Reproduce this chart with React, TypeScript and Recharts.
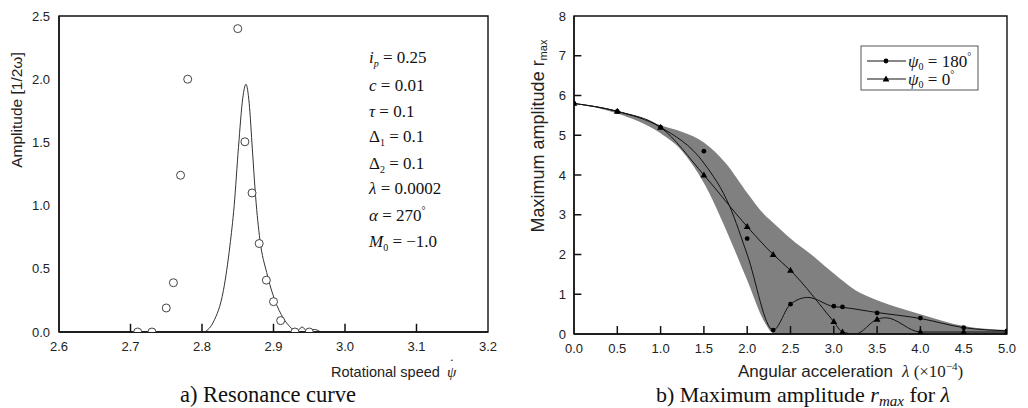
import React from 'react';
import { ComposedChart, Line, Scatter, Area, XAxis, YAxis, ReferenceArea, ReferenceLine } from 'recharts';

// ---- Chart a) Resonance curve ----
const measSpeed = [2.71, 2.73, 2.75, 2.76, 2.77, 2.78, 2.85, 2.86, 2.87, 2.88, 2.89, 2.90, 2.91, 2.93, 2.95];
const measAmp = [0, 0, 0.19, 0.39, 1.24, 2.0, 2.4, 1.505, 1.1, 0.7, 0.41, 0.24, 0.09, 0, 0];
const calcSpeed = [2.804, 2.816, 2.83, 2.839, 2.845, 2.851, 2.857, 2.8615, 2.866, 2.8705, 2.875, 2.881, 2.8905, 2.902, 2.9137, 2.925, 2.932, 2.94, 2.948, 2.957, 2.966];
const calcAmp = [0, 0.08, 0.33, 0.68, 1.0, 1.46, 1.85, 1.96, 1.81, 1.44, 1.07, 0.73, 0.47, 0.25, 0.11, 0.03, 0, 0.04, 0, 0.02, 0];
const speedTicks = [2.6, 2.7, 2.8, 2.9, 3.0, 3.1, 3.2];
const speedInnerTicks = [2.7, 2.8, 2.9, 3.0, 3.1];
const ampTicks = [0, 0.5, 1.0, 1.5, 2.0, 2.5];

// ---- Chart b) Maximum amplitude ----
const lambdaPts = [0, 0.5, 1.0, 1.5, 2.0, 2.3, 2.5, 3.0, 3.1, 3.5, 4.0, 4.5, 5.0];
const r180 = [5.8, 5.6, 5.2, 4.6, 2.4, 0.1, 0.75, 0.7, 0.68, 0.53, 0.4, 0.16, 0.08];
const r0 = [5.8, 5.6, 5.2, 4.0, 2.7, 2.0, 1.6, 0.31, 0.05, 0.37, 0.05, 0.05, 0.05];
const fitLambda180 = [0, 0.5, 1.0, 1.5, 1.8, 2.0, 2.3, 2.5, 2.7, 3.0, 3.1, 3.5, 4.0, 4.5, 5.0];
const fit180 = [5.8, 5.6, 5.2, 4.3, 3.2, 2.0, 0.1, 0.75, 0.92, 0.69, 0.67, 0.54, 0.39, 0.16, 0.08];
const fitLambda0 = [0, 0.5, 1.0, 1.5, 2.0, 2.3, 2.5, 3.0, 3.1, 3.25, 3.5, 3.6, 4.0, 4.5, 5.0];
const fit0 = [5.8, 5.6, 5.2, 4.0, 2.7, 2.0, 1.6, 0.31, 0.05, 0, 0.37, 0.41, 0.05, 0.05, 0.05];
const bandLambda = [0, 0.5, 1.0, 1.25, 1.5, 1.75, 2.0, 2.2, 2.3, 2.5, 2.75, 3.0, 3.25, 3.5, 4.0, 4.5, 5.0];
const bandHigh = [5.8, 5.62, 5.25, 5.08, 4.82, 4.3, 3.55, 3.0, 2.8, 2.4, 1.98, 1.52, 1.1, 0.85, 0.5, 0.2, 0.1];
const bandLow = [5.8, 5.55, 5.05, 4.6, 3.8, 2.65, 1.35, 0.3, 0.02, 0, 0, 0, 0, 0, 0, 0, 0];
const lambdaTicks = [0, 0.5, 1.0, 1.5, 2.0, 2.5, 3.0, 3.5, 4.0, 4.5, 5.0];
const lambdaInnerTicks = [0.5, 1.0, 1.5, 2.0, 2.5, 3.0, 3.5, 4.0, 4.5];
const rTicks = [0, 1, 2, 3, 4, 5, 6, 7, 8];
const rInnerTicks = [1, 2, 3, 4, 5, 6, 7];

// tick-mark lengths expressed in axis units (≈8 px / 7 px)
const AMP_TICK_LEN = 0.065;
const R_TICK_LEN = 0.2;
const LAMBDA_TICK_LEN = 0.085;

const zip = (xs: number[], ys: number[]) => xs.map((x, i) => ({ x, y: ys[i] }));
const measData = zip(measSpeed, measAmp);
const calcData = zip(calcSpeed, calcAmp);
const pts180 = zip(lambdaPts, r180);
const pts0 = zip(lambdaPts, r0);
const line180 = zip(fitLambda180, fit180);
const line0 = zip(fitLambda0, fit0);
const bandData = bandLambda.map((x, i) => ({ x, range: [bandLow[i], bandHigh[i]] }));

const SANS = '"Liberation Sans", Arial, sans-serif';
const SERIF = '"Liberation Serif", "Times New Roman", serif';
const AX = '#111';
const TICK_FILL = '#222';

const OpenCircle = (p: any) => <circle cx={p.cx} cy={p.cy} r={4} fill="#fff" stroke="#444" strokeWidth={1} />;
const Dot = (p: any) => <circle cx={p.cx} cy={p.cy} r={2.4} fill="#000" />;
const Tri = (p: any) => (
  <polygon points={`${p.cx},${p.cy - 3.6} ${p.cx - 3.4},${p.cy + 2.4} ${p.cx + 3.4},${p.cy + 2.4}`} fill="#000" />
);

const XTickLabel = (p: any) => (
  <text x={p.x} y={p.y + 8.5} textAnchor="middle" fontFamily={SANS} fontSize={13} fill={TICK_FILL}>
    {Number(p.payload.value).toFixed(1)}
  </text>
);
const YTickLabel = (digits: number) => (p: any) => (
  <text x={p.x} y={p.y + 4.6} textAnchor="end" fontFamily={SANS} fontSize={13} fill={TICK_FILL}>
    {Number(p.payload.value).toFixed(digits)}
  </text>
);

export default function App() {
  return (
    <div style={{ position: 'absolute', left: 0, top: 0, width: 1028, height: 408, background: '#fff', overflow: 'hidden' }}>
      <div style={{ position: 'absolute', left: 0, top: 0 }}>
        <ComposedChart width={500} height={360} margin={{ top: 16, right: 12, bottom: 0, left: 0 }}>
          <XAxis dataKey="x" type="number" domain={[2.6, 3.2]} ticks={speedTicks} allowDataOverflow
            height={28} tickSize={0} tickMargin={10} tickLine={false} tick={XTickLabel} interval={0}
            axisLine={{ stroke: AX, strokeWidth: 1.4 }} />
          <YAxis type="number" domain={[0, 2.5]} ticks={ampTicks} allowDataOverflow width={59}
            tickSize={0} tickMargin={9} tick={YTickLabel(1)} tickLine={false} interval={0}
            axisLine={{ stroke: AX, strokeWidth: 1.4 }} />
          <ReferenceArea x1={2.6} x2={3.2} y1={0} y2={2.5} fill="none" fillOpacity={0} stroke={AX} strokeWidth={1.4} />
          {speedInnerTicks.map((t) => (
            <ReferenceLine key={t} segment={[{ x: t, y: 0 }, { x: t, y: AMP_TICK_LEN }]} stroke={AX} strokeWidth={1.5} />
          ))}
          <Line data={calcData} dataKey="y" type="monotone" stroke="#333" strokeWidth={1} dot={false} isAnimationActive={false} />
          <Scatter data={measData} dataKey="y" shape={OpenCircle} isAnimationActive={false} />
        </ComposedChart>
      </div>
      <div style={{ position: 'absolute', left: 515, top: 0 }}>
        <ComposedChart width={513} height={362} margin={{ top: 16, right: 21, bottom: 0, left: 0 }}>
          <XAxis dataKey="x" type="number" domain={[0, 5]} ticks={lambdaTicks} allowDataOverflow
            height={28} tickSize={0} tickMargin={10} tickLine={false} tick={XTickLabel} interval={0}
            axisLine={{ stroke: AX, strokeWidth: 1.4 }} />
          <YAxis type="number" domain={[0, 8]} ticks={rTicks} allowDataOverflow width={59}
            tickSize={0} tickMargin={8} tickLine={false} tick={YTickLabel(0)} interval={0}
            axisLine={{ stroke: AX, strokeWidth: 1.4 }} />
          <Area data={bandData} dataKey="range" type="monotone" fill="#808080" fillOpacity={1} stroke="none" isAnimationActive={false} />
          <ReferenceArea x1={0} x2={5} y1={0} y2={8} fill="none" fillOpacity={0} stroke={AX} strokeWidth={1.4} />
          {lambdaInnerTicks.map((t) => (
            <ReferenceLine key={'x' + t} segment={[{ x: t, y: 0 }, { x: t, y: R_TICK_LEN }]} stroke={AX} strokeWidth={1.5} />
          ))}
          {rInnerTicks.map((t) => (
            <ReferenceLine key={'y' + t} segment={[{ x: 0, y: t }, { x: LAMBDA_TICK_LEN, y: t }]} stroke={AX} strokeWidth={1.5} />
          ))}
          <Line data={line180} dataKey="y" type="monotone" stroke="#111" strokeWidth={1} dot={false} isAnimationActive={false} />
          <Line data={line0} dataKey="y" type="monotone" stroke="#111" strokeWidth={1} dot={false} isAnimationActive={false} />
          <Scatter data={pts180} dataKey="y" shape={Dot} isAnimationActive={false} />
          <Scatter data={pts0} dataKey="y" shape={Tri} isAnimationActive={false} />
        </ComposedChart>
      </div>
      <svg width={1028} height={408} style={{ position: 'absolute', left: 0, top: 0, pointerEvents: 'none' }}>
        {/* left chart titles */}
        <text transform="translate(22,110) rotate(-90)" textAnchor="middle" fontFamily={SANS} fontSize={15.5} fill="#222">Amplitude [1/2ω]</text>
        <text x={331} y={377} fontFamily={SANS} fontSize={14.5} fill="#222">Rotational speed</text>
        <text x={447} y={377} fontFamily={SERIF} fontSize={15} fill="#222"><tspan fontStyle="italic">ψ</tspan><tspan dx={-7} dy={-8}>˙</tspan></text>
        <text x={268} y={402} textAnchor="middle" fontFamily={SERIF} fontSize={22.5} fill="#111">a) Resonance curve</text>
        {/* parameters */}
        <g fontFamily={SERIF} fontSize={17} fill="#111">
          <text x={369} y={63}><tspan fontStyle="italic">i</tspan><tspan fontSize={10} dy={4} fontStyle="italic">p</tspan><tspan dy={-4}> = 0.25</tspan></text>
          <text x={369} y={91}><tspan fontStyle="italic">c</tspan> = 0.01</text>
          <text x={369} y={117}><tspan fontStyle="italic">τ</tspan> = 0.1</text>
          <text x={369} y={142}>Δ<tspan fontSize={10} dy={4}>1</tspan><tspan dy={-4}> = 0.1</tspan></text>
          <text x={369} y={169}>Δ<tspan fontSize={10} dy={4}>2</tspan><tspan dy={-4}> = 0.1</tspan></text>
          <text x={369} y={194}><tspan fontStyle="italic">λ</tspan> = 0.0002</text>
          <text x={369} y={221}><tspan fontStyle="italic">α</tspan> = 270<tspan fontSize={10} dy={-7}>°</tspan></text>
          <text x={369} y={247}><tspan fontStyle="italic">M</tspan><tspan fontSize={10} dy={4}>0</tspan><tspan dy={-4}> = −1.0</tspan></text>
        </g>
        {/* right chart titles */}
        <text transform="translate(544,136) rotate(-90)" textAnchor="middle" fontFamily={SANS} fontSize={18} fill="#222">Maximum amplitude r<tspan fontSize={11} dy={3}>max</tspan></text>
        <text x={738} y={377} fontFamily={SANS} fontSize={17} fill="#222">Angular acceleration</text>
        <text x={902} y={377} fontFamily={SERIF} fontSize={17} fill="#222"><tspan fontStyle="italic">λ</tspan> (×10<tspan fontSize={11} dy={-7}>−4</tspan><tspan dy={7}>)</tspan></text>
        <text x={803} y={402} textAnchor="middle" fontFamily={SERIF} fontSize={22} fill="#111">b) Maximum amplitude <tspan fontStyle="italic">r</tspan><tspan fontStyle="italic" fontSize={15} dy={4}>max</tspan><tspan dy={-4}> for </tspan><tspan fontStyle="italic">λ</tspan></text>
        {/* legend */}
        <rect x={861} y={46} width={117} height={44} fill="#fff" stroke="#555" strokeWidth={1} />
        <line x1={867} y1={61} x2={906} y2={61} stroke="#111" strokeWidth={1} />
        <circle cx={886} cy={61} r={2.4} fill="#000" />
        <text x={908} y={67} fontFamily={SERIF} fontSize={17} fill="#111"><tspan fontStyle="italic">ψ</tspan><tspan fontSize={10} dy={3}>0</tspan><tspan dy={-3}> = 180</tspan><tspan fontSize={10} dy={-7}>°</tspan></text>
        <line x1={867} y1={79} x2={906} y2={79} stroke="#111" strokeWidth={1} />
        <polygon points="886,75.4 882.6,81.4 889.4,81.4" fill="#000" />
        <text x={908} y={85} fontFamily={SERIF} fontSize={17} fill="#111"><tspan fontStyle="italic">ψ</tspan><tspan fontSize={10} dy={3}>0</tspan><tspan dy={-3}> = 0</tspan><tspan fontSize={10} dy={-7}>°</tspan></text>
      </svg>
    </div>
  );
}
